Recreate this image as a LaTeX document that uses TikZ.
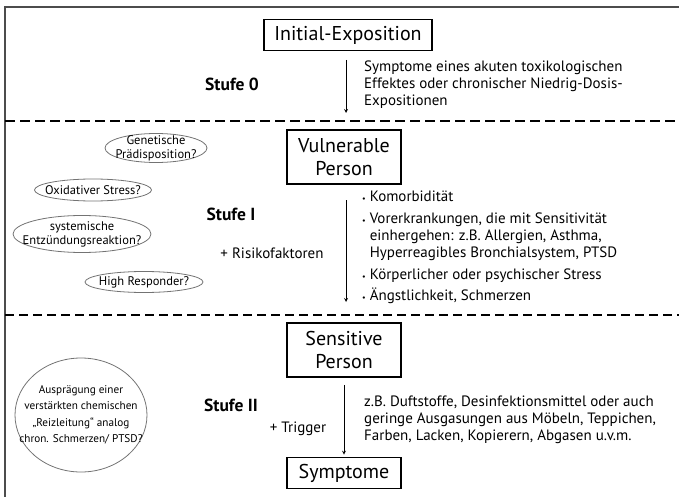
\documentclass[tikz,border=0pt]{standalone}
\usepackage{fontspec}
\setmainfont{PT Sans}
\usetikzlibrary{shapes.geometric}
\newcommand{\pkt}{{\fontsize{8}{8}\selectfont\textbullet}\ }
\tikzset{
	stagebox/.style={draw, line width=1.6pt, align=center, inner sep=0pt, minimum width=114pt, font=\fontsize{20}{23}\selectfont},
	guess/.style={draw=black!55, line width=0.8pt, ellipse, inner sep=0pt},
	guesstext/.style={inner sep=0pt, align=center, font=\fontsize{12.5}{14}\selectfont},
	level/.style={font=\bfseries\fontsize{17.5}{20}\selectfont},
	note/.style={anchor=north west, inner sep=0pt, align=left, font=\fontsize{15}{17}\selectfont},
	cut/.style={dashed, dash pattern=on 10pt off 5pt, line width=2.6pt}
}

\begin{document}
\begin{tikzpicture}[x=1pt, y=-1pt]
		\useasboundingbox (0,0) rectangle (679,497);
		\draw[line width=2pt, black!70] (5,497) -- (5,7) -- (679,7);
		\coordinate (L1) at (5,121);
		\coordinate (R1) at (679,121);
		\coordinate (L2) at (5,315);
		\coordinate (R2) at (679,315);
		\draw[cut] (L1) -- (R1);
		\draw[cut, line width=1.8pt, dash pattern=on 9pt off 5pt] (L2) -- (R2);
		\node[stagebox, minimum width=168pt, minimum height=31pt] (init) at (348,35) {Initial-Exposition};
		\node[stagebox, minimum height=54pt] (vuln) at (344,157) {Vulnerable\\Person};
		\node[stagebox, minimum height=54pt] (sens) at (344,350) {Sensitive\\Person};
		\node[stagebox, minimum height=31pt] (sympt) at (344,473) {Symptome};
		\coordinate (A0) at (346,60);
		\coordinate (B0) at (346,113);
		\coordinate (A1) at (346,200);
		\coordinate (B1) at (346,302);
		\draw[thick, -> , >=stealth] (A0) -- (B0);
		\draw[thick, -> , >=stealth] (A1) -- (B1);
		\draw[thick, -> , >=stealth, shorten <=7pt, shorten >=2pt] (sens) -- (sympt);
		\node[level] (s0) at (232,84) {Stufe 0};
		\node[level] (s1) at (231,214) {Stufe I};
		\node[level] (s2) at (231,405) {Stufe II};
		\node[font=\fontsize{15}{17}\selectfont] (risk) at (272,253) {+ Risikofaktoren};
		\node[font=\fontsize{15}{17}\selectfont] (trig) at (298,429) {+ Trigger};
		\node[note] (t0) at (364,61) {Symptome eines akuten toxikologischen\\Effektes oder chronischer Niedrig-Dosis-\\Expositionen};
		\node[note] (t1) at (362,191) {\pkt Komorbidität\\[5pt]
			\pkt Vorerkrankungen, die mit Sensitivität\\
			\phantom{\pkt}einhergehen: z.B. Allergien, Asthma,\\
			\phantom{\pkt}Hyperreagibles Bronchialsystem, PTSD\\[5pt]
			\pkt Körperlicher oder psychischer Stress\\[4pt]
			\pkt Ängstlichkeit, Schmerzen};
		\node[note] (t2) at (364,396) {z.B. Duftstoffe, Desinfektionsmittel oder auch\\geringe Ausgasungen aus Möbeln, Teppichen,\\Farben, Lacken, Kopierern, Abgasen u.v.m.};
		\node[guess, minimum width=102pt, minimum height=29pt, label={[guesstext]center:Genetische\\Prädisposition?}] (gen) at (156,148) {};
		\node[guess, minimum width=117pt, minimum height=22pt, label={[guesstext]center:Oxidativer Stress?}] (ox) at (93,190) {};
		\node[guess, minimum width=138pt, minimum height=37pt, label={[guesstext]center:systemische\\Entzündungsreaktion?}] (sys) at (82,234) {};
		\node[guess, minimum width=118pt, minimum height=21pt, label={[guesstext]center:High Responder?}] (high) at (144,282) {};
		\node[guess, minimum width=132pt, minimum height=114pt, label={[guesstext, font=\fontsize{11.2}{16.5}\selectfont]center:Ausprägung einer\\verstärkten chemischen\\„Reizleitung“ analog\\chron. Schmerzen/ PTSD?}] (reiz) at (81,415) {};
	\end{tikzpicture}
\end{document}
